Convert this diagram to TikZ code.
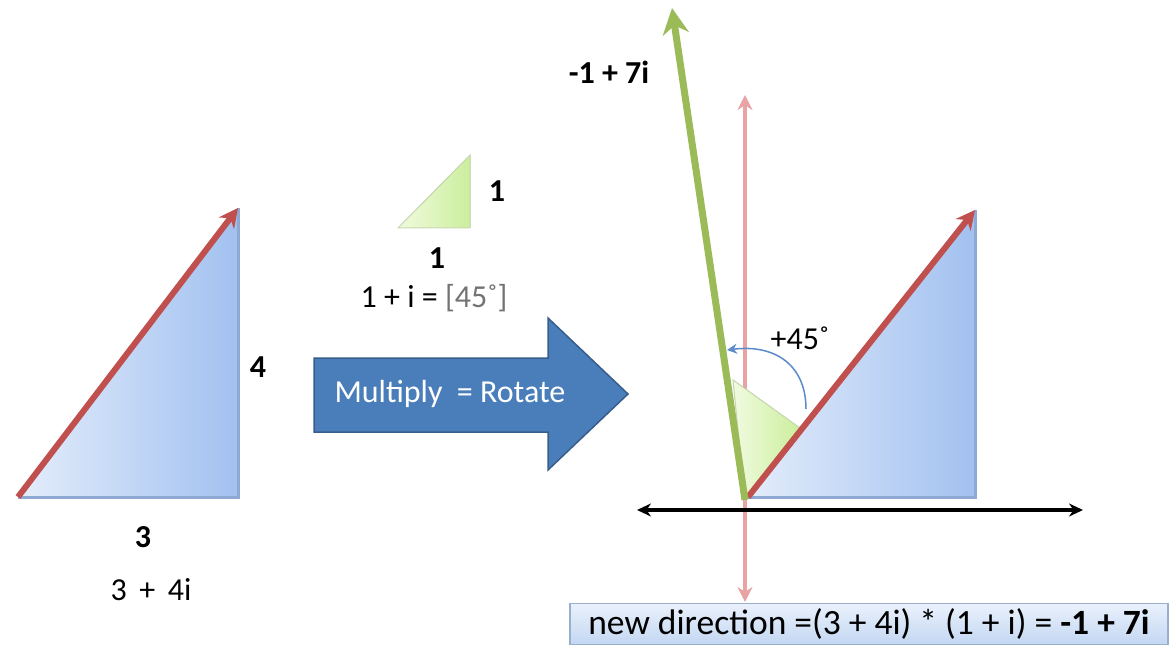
\documentclass[tikz,border=0pt]{standalone}
\usepackage{fontspec}
\setmainfont{Carlito}
\usepackage{xcolor}
\usetikzlibrary{arrows.meta, calc, positioning}

\definecolor{vecred}{HTML}{C0504D}
\definecolor{vecgreen}{HTML}{9BBB59}
\definecolor{vecpink}{HTML}{E8A4A4}
\definecolor{triL}{HTML}{E4EDFB}
\definecolor{triR}{HTML}{A2C1F0}
\definecolor{triedge}{HTML}{8DA9D4}
\definecolor{greenL}{HTML}{F1FBE0}
\definecolor{greenR}{HTML}{CBEE9C}
\definecolor{arrowblue}{HTML}{4A7EBB}
\definecolor{arrowedge}{HTML}{385D8A}
\definecolor{arcblue}{HTML}{5B8BC9}
\definecolor{boxtop}{HTML}{EAF1FC}
\definecolor{boxbot}{HTML}{C3D7F2}
\definecolor{boxedge}{HTML}{9AAFCB}

\begin{document}
\begin{tikzpicture}[x=1pt, y=-1pt, >={Stealth[length=19pt,width=19pt]},
    txt/.style={font=\fontsize{32}{38}\selectfont, inner sep=0pt},
    bigtxt/.style={font=\fontsize{35.5}{40}\selectfont, inner sep=0pt},
    vec/.style={line width=6pt}]

    \useasboundingbox (0,0) rectangle (1173,671);

    % triangle 3 + 4i
    \coordinate (a0) at (18,497);
    \coordinate (a1) at (238,497);
    \coordinate (a2) at (238,208);
    \fill[left color=triL, right color=triR] (a0) -- (a1) -- (a2) -- cycle;
    \draw[triedge, line width=3pt] (a0) -- (a1) -- (a2);
    \draw[vec, vecred, ->] (a0) -- (a2);
    \node[txt] (four) at (258,367) {\textbf{4}};
    \node[txt] (three) at (143,537) {\textbf{3}};
    \node[txt] (lnum) at (151,590) {3 \,+\, 4i};

    % triangle 1 + i
    \coordinate (g0) at (398,228);
    \coordinate (g1) at (470,228);
    \coordinate (g2) at (470,155);
    \fill[left color=greenL, right color=greenR] (g0) -- (g1) -- (g2) -- cycle;
    \draw[greenR!80!black!60, line width=1pt] (g0) -- (g1) -- (g2) -- cycle;
    \node[txt] (one1) at (497,191) {\textbf{1}};
    \node[txt] (one2) at (437,258) {\textbf{1}};
    \node[txt] (rot) at (434,298) {1 + i = {\color{gray!90!black}[45˚]}};

    % Multiply = Rotate
    \filldraw[fill=arrowblue, draw=arrowedge, line width=1.5pt]
        (314,358) -- (548,358) -- (548,318) -- (628,394) -- (548,470)
        -- (548,432) -- (314,432) -- cycle;
    \node[txt, text=white] (mult) at (450,394) {Multiply \ = Rotate};

    % rotated picture
    \coordinate (o) at (745,500);
    \coordinate (b1) at (975,497);
    \coordinate (b2) at (975,210);
    \fill[left color=triL, right color=triR] (745,497) -- (b1) -- (b2) -- cycle;
    \draw[triedge, line width=3pt] (745,497) -- (b1) -- (b2);

    \coordinate (pdn) at (745,602);
    \coordinate (pup) at (745,95);
    \draw[<->, vecpink, line width=4.5pt, >={Stealth[length=15pt,width=15pt]}] (pdn) -- (pup);
    \coordinate (xl) at (637,510);
    \coordinate (xr) at (1083,510);
    \draw[<->, line width=3.5pt, >={Stealth[length=14pt,width=13pt]}] (xl) -- (xr);

    \coordinate (h0) at (733,380);
    \coordinate (h1) at (800,428);
    \fill[left color=greenL, right color=greenR] (o) -- (h0) -- (h1) -- cycle;
    \draw[greenR!80!black!60, line width=1pt] (o) -- (h0) -- (h1) -- cycle;

    \draw[vec, vecred, ->] (748,497) -- (b2);
    \coordinate (w) at (672,8);
    \draw[line width=7pt, vecgreen, ->, >={Stealth[length=26pt,width=26pt]}] (o) -- (w);

    \coordinate (c0) at (806,409);
    \coordinate (c1) at (727,350);
    \draw[arcblue, line width=1.5pt, ->, >={Stealth[length=10pt,width=10pt]}]
        (c0) .. controls (806,365) and (775,344) .. (c1);
    \node[txt] (deg) at (800,338) {+45˚};
    \node[txt] (res) at (609,72) {\textbf{-1 + 7i}};

    % result box
    \node[bigtxt, draw=boxedge, line width=1.5pt, top color=boxtop, bottom color=boxbot,
        minimum width=598pt, minimum height=41pt] (eq) at (869,624)
        {new direction =(3 + 4i) * (1 + i) = \textbf{-1 + 7i}};

\end{tikzpicture}
\end{document}
